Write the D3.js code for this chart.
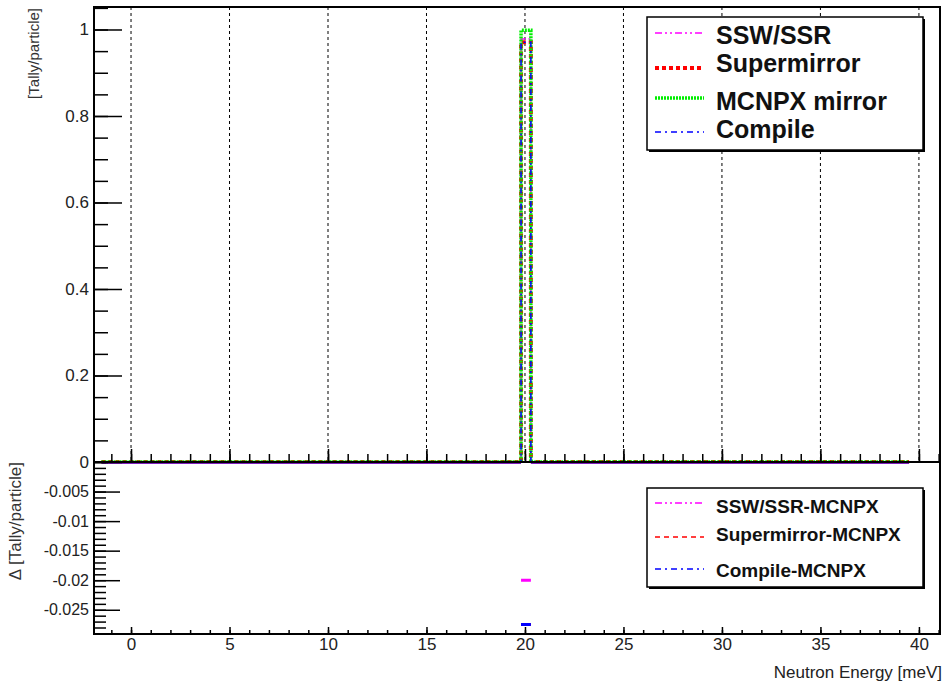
<!DOCTYPE html>
<html>
<head>
<meta charset="utf-8">
<script src="https://cdn.jsdelivr.net/npm/d3@7.9.0/dist/d3.min.js"></script>
<style>
  body { margin: 0; background: #fff; }
  svg { display: block; font-family: "Liberation Sans", Arial, sans-serif; }
</style>
</head>
<body>
<svg id="chart" width="945" height="681"></svg>
<script>
// histogram bin edges (meV) and contents
const binEdges = [-1.5, 19.8, 20.3, 39.5];
const sswSsr = [0, 0.978, 0];
const supermirror = [0, 0.9705, 0];
const mcnpxMirror = [0, 0.998, 0];
const compile = [0, 0.9705, 0];

// differences to MCNPX (lower pad)
const sswMinusMcnpx = [0, -0.02, 0];
const superMinusMcnpx = [0, -0.0275, 0];
const compileMinusMcnpx = [0, -0.0275, 0];

const xTicks = [0, 5, 10, 15, 20, 25, 30, 35, 40];
const yTopTicks = [0, 0.2, 0.4, 0.6, 0.8, 1];
const yBotTicks = [0, -0.005, -0.01, -0.015, -0.02, -0.025];

const topSeries = [
  { name: 'SSW/SSR', values: sswSsr, color: '#ff00ff', width: 1.5, dash: '7,3,2,3,2,3' },
  { name: 'Supermirror', values: supermirror, color: '#ff0000', width: 4, dash: '4,3' },
  { name: 'MCNPX mirror', values: mcnpxMirror, color: '#00ee00', width: 3.5, dash: '2,1' },
  { name: 'Compile', values: compile, color: '#0000ff', width: 1.5, dash: '6,4,2,4' }
];
const botSeries = [
  { name: 'SSW/SSR-MCNPX', values: sswMinusMcnpx, color: '#ff00ff', width: 3, dash: '7,3,2,3,2,3' },
  { name: 'Supermirror-MCNPX', values: superMinusMcnpx, color: '#ff0000', width: 3, dash: '5,4' },
  { name: 'Compile-MCNPX', values: compileMinusMcnpx, color: '#0000ff', width: 3, dash: '6,4,2,4' }
];

const svg = d3.select('#chart');
const L = 94, R = 940, T = 7, MID = 462, B = 634;

const x = d3.scaleLinear([-1.88, 41.07], [L, R]);
const yTop = d3.scaleLinear([0, 1.052], [MID, T]);
const yBot = d3.scaleLinear([-0.0291, 0], [B, MID]);

svg.append('defs').call(d => {
  d.append('clipPath').attr('id', 'clipTop')
    .append('rect').attr('x', L).attr('y', T).attr('width', R - L).attr('height', MID - T);
  d.append('clipPath').attr('id', 'clipBot')
    .append('rect').attr('x', L).attr('y', MID).attr('width', R - L).attr('height', B - MID);
});

// vertical dashed grid, top pad only
svg.append('g').selectAll('line').data(xTicks).join('line')
  .attr('x1', d => x(d)).attr('x2', d => x(d))
  .attr('y1', T).attr('y2', MID)
  .attr('stroke', '#000').attr('stroke-width', 1).attr('stroke-dasharray', '3,3');

function stepPath(values, y) {
  let p = d3.path();
  p.moveTo(x(binEdges[0]), y(values[0]));
  values.forEach((v, i) => {
    p.lineTo(x(binEdges[i]), y(v));
    p.lineTo(x(binEdges[i + 1]), y(v));
  });
  return p.toString();
}

function segPath(values, y) {
  let p = d3.path();
  values.forEach((v, i) => {
    p.moveTo(x(binEdges[i]), y(v));
    p.lineTo(x(binEdges[i + 1]), y(v));
  });
  return p.toString();
}

svg.append('g').attr('clip-path', 'url(#clipTop)')
  .selectAll('path').data(topSeries).join('path')
  .attr('d', d => stepPath(d.values, yTop))
  .attr('fill', 'none')
  .attr('stroke', d => d.color)
  .attr('stroke-width', d => d.width)
  .attr('stroke-dasharray', d => d.dash);

svg.append('g').attr('clip-path', 'url(#clipBot)')
  .selectAll('path').data(botSeries).join('path')
  .attr('d', d => segPath(d.values, yBot))
  .attr('fill', 'none')
  .attr('stroke', d => d.color)
  .attr('stroke-width', d => d.width);

// axes (ticks point into the frame)
function styleAxis(g, fs) {
  g.select('.domain').remove();
  g.selectAll('line').attr('stroke', '#000').attr('stroke-width', 1.5);
  g.selectAll('text').attr('fill', '#222').style('font-size', fs + 'px');
}

const minorX = d3.range(-1, 42, 1);

svg.append('g').attr('transform', `translate(0,${MID})`)
  .call(d3.axisBottom(x).tickValues(minorX).tickSizeInner(-8).tickFormat(''))
  .call(g => styleAxis(g, 16));
svg.append('g').attr('transform', `translate(0,${MID})`)
  .call(d3.axisBottom(x).tickValues(xTicks).tickSizeInner(-13).tickFormat(''))
  .call(g => styleAxis(g, 16));

svg.append('g').attr('transform', `translate(0,${B})`)
  .call(d3.axisBottom(x).tickValues(minorX).tickSizeInner(-4).tickFormat(''))
  .call(g => styleAxis(g, 16));
svg.append('g').attr('transform', `translate(0,${B})`)
  .call(d3.axisBottom(x).tickValues(xTicks).tickSizeInner(-7).tickPadding(4).tickFormat(d3.format('d')))
  .call(g => styleAxis(g, 17));

const minorYTop = d3.range(0, 1.051, 0.05);
svg.append('g').attr('transform', `translate(${L},0)`)
  .call(d3.axisLeft(yTop).tickValues(minorYTop).tickSizeInner(-14).tickFormat(''))
  .call(g => styleAxis(g, 16));
svg.append('g').attr('transform', `translate(${L},0)`)
  .call(d3.axisLeft(yTop).tickValues(yTopTicks).tickSizeInner(-28).tickPadding(5).tickFormat(d3.format('')))
  .call(g => styleAxis(g, 17));

const minorYBot = d3.range(0, -0.029, -0.001);
svg.append('g').attr('transform', `translate(${L},0)`)
  .call(d3.axisLeft(yBot).tickValues(minorYBot).tickSizeInner(-12).tickFormat(''))
  .call(g => styleAxis(g, 16));
svg.append('g').attr('transform', `translate(${L},0)`)
  .call(d3.axisLeft(yBot).tickValues(yBotTicks.slice(1)).tickSizeInner(-26).tickPadding(5)
    .tickFormat(d => d3.format('')(d).replace('−', '-')))
  .call(g => styleAxis(g, 16));

// frames
svg.append('rect').attr('x', L).attr('y', T).attr('width', R - L).attr('height', MID - T)
  .attr('fill', 'none').attr('stroke', '#000').attr('stroke-width', 2);
svg.append('rect').attr('x', L).attr('y', MID).attr('width', R - L).attr('height', B - MID)
  .attr('fill', 'none').attr('stroke', '#000').attr('stroke-width', 2);

// axis titles
svg.append('text').attr('transform', 'translate(39,8) rotate(-90)')
  .attr('text-anchor', 'end').attr('fill', '#333').style('font-size', '15px')
  .text('[Tally/particle]');
svg.append('text').attr('transform', 'translate(21,462) rotate(-90)')
  .attr('text-anchor', 'end').attr('fill', '#333').style('font-size', '17px')
  .text('Δ [Tally/particle]');
svg.append('text').attr('x', 942).attr('y', 678)
  .attr('text-anchor', 'end').attr('fill', '#222').style('font-size', '17px')
  .text('Neutron Energy [meV]');

// legends
function legend(box, items, sampleYs, textYs, fs) {
  let g = svg.append('g');
  g.append('rect').attr('x', box.x + 2).attr('y', box.y + 2)
    .attr('width', box.w).attr('height', box.h).attr('fill', '#000');
  g.append('rect').attr('x', box.x).attr('y', box.y)
    .attr('width', box.w).attr('height', box.h)
    .attr('fill', '#fff').attr('stroke', '#000').attr('stroke-width', 1.5);
  items.forEach((d, i) => {
    g.append('line')
      .attr('x1', 655).attr('x2', 704)
      .attr('y1', sampleYs[i]).attr('y2', sampleYs[i])
      .attr('stroke', d.color)
      .attr('stroke-width', d.legendWidth || d.width)
      .attr('stroke-dasharray', d.dash);
    g.append('text').attr('x', 716).attr('y', textYs[i])
      .attr('fill', '#111').style('font-size', fs + 'px').style('font-weight', 'bold')
      .text(d.name);
  });
}

legend({ x: 647, y: 17, w: 276, h: 133 }, topSeries, [33, 68, 98, 132], [44, 72, 110, 138], 25);
legend({ x: 647, y: 488, w: 276, h: 99 },
  botSeries.map(d => ({ ...d, legendWidth: 1.5 })), [503, 537, 569], [513, 541, 577], 19);
</script>
</body>
</html>
